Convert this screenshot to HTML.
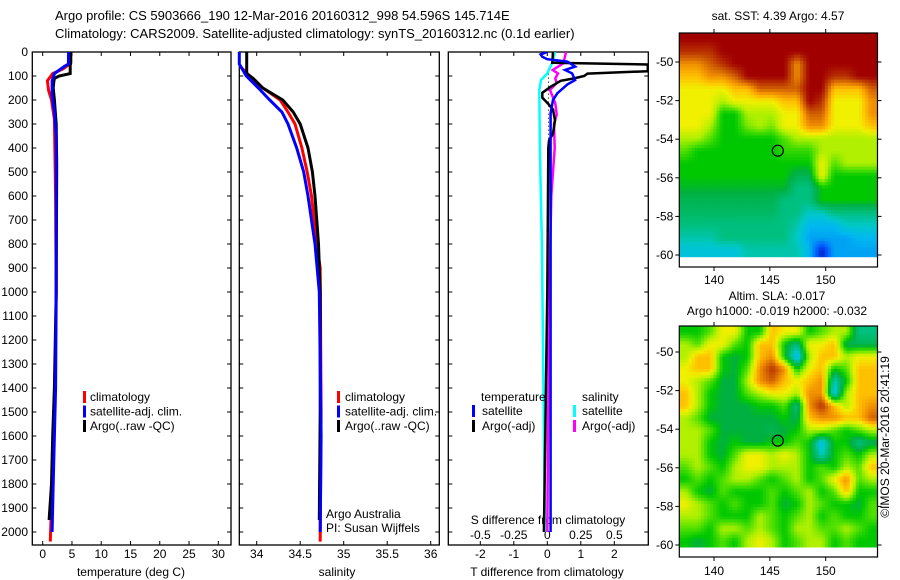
<!DOCTYPE html>
<html><head><meta charset="utf-8"><style>
body{margin:0;background:#fff;}
svg{display:block;font-family:"Liberation Sans",sans-serif;}
text{font-size:12px;fill:#000;}
</style></head><body>
<svg id="fig" width="900" height="580" viewBox="0 0 900 580">
<rect width="900" height="580" fill="#fff"/>
<text x="55" y="20" style="font-size:13px">Argo profile: CS 5903666_190 12-Mar-2016 20160312_998 54.596S 145.714E</text>
<text x="55" y="38" style="font-size:13px">Climatology: CARS2009. Satellite-adjusted climatology: synTS_20160312.nc (0.1d earlier)</text>
<g id="g"></g>
</svg>
<script>
// ---------- data ----------
const depthTicks=[0,100,200,300,400,500,600,700,800,900,1000,1100,1200,1300,1400,1500,1600,1700,1800,1900,2000];
const tTicks=[0,5,10,15,20,25,30];
const sTicks=[34,34.5,35,35.5,36];
const dTTicks=[-2,-1,0,1,2];
const dSTicks=[-0.5,-0.25,0,0.25,0.5];
const dSTickLabels=["-0.5","-0.25","0","0.25","0.5"];
const lonTicks=[140,145,150];
const latTicks=[-50,-52,-54,-56,-58,-60];

const argoTDepth=[0,45,55,90,100,110,125,150,200,300,470,1000,1400,1600,1800,1950];
const argoT=[4.8,4.8,4.7,4.7,2.8,2.0,1.9,1.8,2.0,2.3,2.4,2.3,2.0,1.7,1.5,1.1];
const climTDepth=[0,50,70,90,120,160,200,280,600,1000,1400,1800,2040];
const climT=[4.6,4.6,3.5,1.7,0.8,1.0,1.5,2.0,2.2,2.3,2.1,1.6,1.3];
const satTDepth=[0,50,60,90,120,180,250,350,1000,1400,1600,1800,2000];
const satT=[4.4,4.4,3.7,2.0,1.6,1.6,2.0,2.3,2.3,2.2,2.0,1.8,1.6];

const argoSDepth=[0,90,110,150,200,250,300,400,500,600,800,1000,1500,1950];
const argoS=[33.885,33.885,33.96,34.07,34.30,34.42,34.50,34.59,34.64,34.67,34.71,34.73,34.73,34.72];
const climSDepth=[60,100,150,200,250,300,400,500,600,800,900,1500,2040];
const climS=[33.81,33.92,34.07,34.27,34.36,34.44,34.52,34.58,34.63,34.69,34.73,34.74,34.73];
const satSDepth=[0,50,100,150,200,250,300,400,500,600,800,1000,1600,2000];
const satS=[33.80,33.80,33.88,34.02,34.15,34.29,34.36,34.46,34.54,34.59,34.67,34.72,34.74,34.73];

const dArgoTDepth=[0,45,52,80,90,100,110,120,145,170,190,215,240,285,340,370,400,1000,1500,2000];
const dArgoT=[0.17,0.15,3.0,3.0,1.2,1.1,0.8,0.4,0.1,-0.15,-0.15,0.02,0.17,0.23,0.17,0.05,0.03,0.0,-0.05,-0.1];
const dSatTDepth=[0,10,20,30,40,61,75,89,117,135,172,200,255,2000];
const dSatT=[0,-0.2,-0.15,0,0.6,0.83,0.53,0.74,0.83,0.6,0.3,0.17,0.1,0.1];
const dSatSDepth=[0,40,89,117,158,408,800,2000];
const dSatS=[0.057,0.04,0,-0.047,-0.06,-0.055,-0.04,-0.017];
const dArgoSDepth=[0,47,75,89,110,130,158,214,260,300,400,600,1000,1600,2000];
const dArgoS=[0.14,0.12,0.04,0.08,0.06,0.07,0.02,0.06,0.07,0.05,0.055,0.03,0.015,0.005,0.0];

const sstGrid=[
[8,8,8,8,8,8,8,8,8,8,8,8,8,8,8,8],
[7.5,7.5,7.5,8,8,8,8,8,8,8,8,8,8,8,8,8],
[6.5,6.5,7,7.5,8,8,8,8,8,6.5,8,8,8,8,8,8],
[6,6,6.5,6.5,7,8,8,8,8,6.5,8,8,7.5,7.5,8,8],
[5.5,5.5,5.5,5.5,6,6,7,7,7,7,8,8,6,6,6,7],
[5.5,5.5,5.5,5,5.5,5.5,5.5,5.5,6,6,8,7.5,5.5,5.5,5.5,6.5],
[5.5,5.5,5.5,4,4,5,5,5,5.5,5.5,7,7,5.5,5.5,5.5,6.5],
[5.5,5.5,5,4,4,4.7,5,4.7,5.5,5.5,6.5,6.5,5.5,5.5,5.5,6],
[5,5,4.5,4,4,4,4,4,4.5,5,5,5,5,5,5,5],
[4.5,4,4,4,4,4,4,4,4.3,4.3,4.3,5,5,5,5,5],
[4,4,4,4,4,4,4,4,4,4,4,5.5,4.5,5,5,5],
[4,4,4,4,4,4,4,4,4,3.5,3.5,5.5,4,4,4,4],
[3.8,3.8,3.8,3.8,3.8,3.8,3.8,3.8,3.8,3,3,4,4,4,4,4],
[3.5,3.5,3.5,3.5,3.5,3.5,3.5,3.5,3,3,3,4,4,4,4,4],
[3.3,3.3,3.3,3.3,3.3,3.3,3.3,3.3,3,3,2.5,2.5,3,3,3,3],
[3,3,3,3,3,3,3,3,3,2.7,2,2,2,2.5,2.5,2.5],
[2.7,2.7,2.7,3,3,3,3,3,3,2.5,1.8,1.8,1.8,1.8,2,2],
[2.3,2.3,2.3,2.3,2.3,2.7,2.7,2.7,2.7,2.7,2,0.5,1.8,1.8,1.8,1.8]];
const slaGrid=[
[4,4,4.5,5.5,5.5,4,4,6,5.5,5.5,4,4.5,5,5,3,3],
[5,4.5,5.5,5.5,4.5,4,6,6,4,3,5.5,5.5,6,3.5,3.5,3.5],
[5,6,6,4,3.7,4,6,6.5,4,1.8,5,6,6,5,5.5,5.5],
[5.5,6,6,4,3.7,4.5,6.5,7.5,6.5,4,5.5,6,4,4.5,6,6],
[5.5,5,4.5,3.7,3.7,5,6.5,7,6,5.5,6,6.5,2.5,4,6,6],
[6,5,4,3.7,3.7,4.5,5,5.5,5.5,5,6.5,6.5,2,5,6,6],
[6,5,4,3.7,3.7,3.7,4,4,4.5,3,6.5,7.5,6,5,6,6.5],
[5,4.5,3.7,3.7,3.7,3.7,3.7,3.7,4,3.5,6,6.5,6.5,6,6,7],
[5,5,4.5,3.7,3.7,3.7,3.7,3.5,3.7,4,5,5,4.5,4,4.5,5],
[5,5,4,3.7,4,3.7,3.7,4,4,4.5,4,2,4,4,3,3.5],
[5,5,4,3.7,4.5,5.5,5.5,5,5.5,5,4,2.5,4,4.5,4,5],
[4.5,5,4.5,4,5,5.5,5.5,5,5,5,4,4.5,4,5,4.5,6],
[4,4.5,4,4.5,5,5,4.5,4,4.5,5,4,4.5,5.5,6.5,4.5,5],
[5,4,3.7,4.5,4,4,4,4.5,4,4.5,5,4,4.5,6,4,4],
[5.5,5,4.5,4,4.5,4,4,4.5,3.7,4,5,4.5,4,4,3.7,4.5],
[5,5,4.5,4,4,4,5,4.5,4,4.5,5,4,4.5,4,4,4.5],
[4.5,4.5,4,5,5,4.5,5,4.5,4,5,5,4.5,4.5,5,4.5,4],
[4,3.7,4,4.5,4,5,5.5,5,4,4.5,5,5,4,4.5,4,4]];
const argoLon=145.714, argoLat=-54.596;

// ---------- helpers ----------
const NS="http://www.w3.org/2000/svg";
const G=document.getElementById('g');
function mk(tag,attrs,parent){const e=document.createElementNS(NS,tag);for(const k in attrs)e.setAttribute(k,attrs[k]);(parent||G).appendChild(e);return e;}
function lin(d0,d1,r0,r1){return v=>r0+(v-d0)*(r1-r0)/(d1-d0);}
const yD=lin(0,2000,52,532);
const xT=lin(0,30,42.7,218.3);
const xS=lin(34,36,256.7,430.7);
const xDT=lin(0,1,547.3,580.8);
const xDS=lin(0,0.25,547.3,580.8);
const PB=545;

function frame(x0,x1,name){
  const r=mk('rect',{x:x0,y:52,width:x1-x0,height:PB-52,fill:'none',stroke:'#000','stroke-width':1.3});
  
  
  depthTicks.forEach(d=>{
    mk('line',{x1:x0,x2:x0+4,y1:yD(d),y2:yD(d),stroke:'#000'});
    mk('line',{x1:x1,x2:x1-4,y1:yD(d),y2:yD(d),stroke:'#000'});
  });
}
function xticks(vals,f){vals.forEach(v=>{const x=f(v);mk('line',{x1:x,x2:x,y1:52,y2:56,stroke:'#000'});mk('line',{x1:x,x2:x,y1:PB,y2:PB-4,stroke:'#000'});});}
function series(depths,vals,fx,color,w,name){
  const pts=depths.map((d,i)=>fx(vals[i]).toFixed(1)+','+yD(d).toFixed(1)).join(' ');
  const p=mk('polyline',{points:pts,fill:'none',stroke:color,'stroke-width':w,'stroke-linejoin':'miter'});
  
  
}
function txt(x,y,s,anchor,name){const t=mk('text',{x:x,y:y,'text-anchor':anchor||'start'});t.textContent=s;
  
  
  return t;}
function legendMark(x,y,color){mk('rect',{x:x,y:y-10,width:3,height:12,fill:color});}

const defs=mk('defs',{});
const cp=mk('clipPath',{id:'c3'},defs);mk('rect',{x:448,y:52,width:200,height:PB-52},cp);

// ---------- panel 1: temperature ----------
frame(32.3,231,'temperature-panel');
xticks(tTicks,xT);
depthTicks.forEach(d=>txt(28,yD(d)+4,String(d),'end','depth-tick-label'));
tTicks.forEach(v=>txt(xT(v),558,String(v),'middle','temperature-tick-label'));
txt(131,576,'temperature (deg C)','middle','temperature-axis-title');
series(climTDepth,climT,xT,'#f00',3,'temperature-climatology-line');
series(argoTDepth,argoT,xT,'#000',3,'temperature-argo-line');
series(satTDepth,satT,xT,'#00f',3,'temperature-satellite-line');
[['#f00','climatology'],['#00f','satellite-adj. clim.'],['#000','Argo(..raw -QC)']].forEach((l,i)=>{legendMark(83,401+i*14.5,l[0]);txt(90,401+i*14.5,l[1],'start','temperature-legend-entry');});

// ---------- panel 2: salinity ----------
frame(239.3,439.3,'salinity-panel');
xticks(sTicks,xS);
sTicks.forEach(v=>txt(xS(v),558,String(v),'middle','salinity-tick-label'));
txt(337,576,'salinity','middle','salinity-axis-title');
series(climSDepth,climS,xS,'#f00',3,'salinity-climatology-line');
series(argoSDepth,argoS,xS,'#000',3,'salinity-argo-line');
series(satSDepth,satS,xS,'#00f',3,'salinity-satellite-line');
[['#f00','climatology'],['#00f','satellite-adj. clim.'],['#000','Argo(..raw -QC)']].forEach((l,i)=>{legendMark(337,401+i*14.5,l[0]);txt(345,401+i*14.5,l[1],'start','salinity-legend-entry');});
txt(326,518,'Argo Australia','start','argo-australia-label');
txt(326,532,'PI: Susan Wijffels','start','pi-label');

// ---------- panel 3: differences ----------
frame(448.3,648.3,'difference-panel');
xticks(dTTicks,xDT);
dTTicks.forEach(v=>txt(xDT(v),558,String(v),'middle','t-diff-tick-label'));
dSTicks.forEach((v,i)=>txt(xDS(v),539,dSTickLabels[i],'middle','s-diff-tick-label'));
txt(548,524,'S difference from climatology','middle','s-diff-axis-title');
txt(547,576,'T difference from climatology','middle','t-diff-axis-title');
const g3=mk('g',{'clip-path':'url(#c3)'});
mk('line',{x1:548.5,x2:548.5,y1:yD(90),y2:yD(520),stroke:'#000','stroke-dasharray':'1,3'},g3);
function series3(depths,vals,fx,color,w,name){
  const pts=depths.map((d,i)=>fx(vals[i]).toFixed(1)+','+yD(d).toFixed(1)).join(' ');
  const p=mk('polyline',{points:pts,fill:'none',stroke:color,'stroke-width':w},g3);
  
  
}
series3(dSatSDepth,dSatS,xDS,'#0ff',2.5,'s-diff-satellite-line');
series3(dArgoSDepth,dArgoS,xDS,'#f0f',2.5,'s-diff-argo-line');
series3(dArgoTDepth,dArgoT,xDT,'#000',2.5,'t-diff-argo-line');
series3(dSatTDepth,dSatT,xDT,'#00f',2.5,'t-diff-satellite-line');
txt(481,401,'temperature','start','legend-temperature-heading');
txt(582,401,'salinity','start','legend-salinity-heading');
legendMark(472,415,'#00f');txt(482,415,'satellite','start','legend-t-satellite');
legendMark(472,430,'#000');txt(482,430,'Argo(-adj)','start','legend-t-argo');
legendMark(573,415,'#0ff');txt(582,415,'satellite','start','legend-s-satellite');
legendMark(573,430,'#f0f');txt(582,430,'Argo(-adj)','start','legend-s-argo');

// ---------- maps ----------
const stops=[[0,[0,0,128]],[1,[0,80,255]],[2,[0,184,240]],[2.5,[0,200,200]],[3,[0,192,128]],[3.7,[0,176,64]],[4,[0,200,0]],[4.5,[80,224,0]],[5,[176,240,0]],[5.5,[240,240,0]],[6,[255,192,0]],[6.5,[240,144,0]],[7,[208,96,0]],[7.5,[184,48,0]],[8,[160,0,0]]];
function cmap(v){for(let i=1;i<stops.length;i++){if(v<=stops[i][0]){const a=stops[i-1],b=stops[i],t=(v-a[0])/(b[0]-a[0]);return 'rgb('+a[1].map((c,k)=>Math.round(c+(b[1][k]-c)*t)).join(',')+')';}}return 'rgb(160,0,0)';}
function sample(grid,fr,fc){ // bilinear sample at fractional cell-centre coords
  const R=grid.length,C=grid[0].length;
  fr=Math.max(0,Math.min(R-1,fr));fc=Math.max(0,Math.min(C-1,fc));
  const r0=Math.floor(fr),c0=Math.floor(fc),r1=Math.min(R-1,r0+1),c1=Math.min(C-1,c0+1),tr=fr-r0,tc=fc-c0;
  return grid[r0][c0]*(1-tr)*(1-tc)+grid[r0][c1]*(1-tr)*tc+grid[r1][c0]*tr*(1-tc)+grid[r1][c1]*tr*tc;
}
const xLon=lin(140,150,714,825.7);
const SUB=4;
function drawMap(grid,ix0,ix1,iy0,iy1,fy0,fy1,lat50,lat60,name,labelY){
  const rows=grid.length*SUB,cols=grid[0].length*SUB,cw=(ix1-ix0)/cols,ch=(iy1-iy0)/rows;
  const gm=mk('g',{});
  
  
  for(let r=0;r<rows;r++)for(let c=0;c<cols;c++){
    const v=sample(grid,(r+0.5)/SUB-0.5,(c+0.5)/SUB-0.5);
    mk('rect',{x:(ix0+c*cw).toFixed(2),y:(iy0+r*ch).toFixed(2),width:(cw+0.5).toFixed(2),height:(ch+0.5).toFixed(2),fill:cmap(v)},gm);
  }
  mk('rect',{x:ix0,y:fy0,width:ix1-ix0,height:fy1-fy0,fill:'none',stroke:'#000','stroke-width':1.2});
  const yLat=lin(-50,-60,lat50,lat60);
  latTicks.forEach(l=>{const y=yLat(l);mk('line',{x1:ix0-4,x2:ix0,y1:y,y2:y,stroke:'#000'});mk('line',{x1:ix1,x2:ix1+4,y1:y,y2:y,stroke:'#000'});txt(ix0-6,y+4,String(l),'end','latitude-tick-label');});
  lonTicks.forEach(l=>{const x=xLon(l);mk('line',{x1:x,x2:x,y1:fy0-4,y2:fy0,stroke:'#000'});mk('line',{x1:x,x2:x,y1:fy1,y2:fy1+4,stroke:'#000'});txt(x,labelY,String(l),'middle','longitude-tick-label');});
  const c=mk('circle',{cx:xLon(argoLon),cy:yLat(argoLat),r:5.5,fill:'none',stroke:'#000','stroke-width':1.2});
  
  
}
drawMap(sstGrid,679.3,877.5,33,256.7,33,267,62,255,'sst-map',284);
txt(778,20,'sat. SST: 4.39 Argo: 4.57','middle','sst-map-title');
drawMap(slaGrid,679.3,877.5,326,547,326,557,352,545,'sla-map',575);
txt(777,300,'Altim. SLA: -0.017','middle','sla-map-title');
txt(777,315,'Argo h1000: -0.019 h2000: -0.032','middle','sla-map-subtitle');
const cr=mk('text',{x:0,y:0,transform:'translate(889,437) rotate(-90)','text-anchor':'middle'});
cr.textContent='©IMOS 20-Mar-2016 20:41:19';


</script>
</body></html>
